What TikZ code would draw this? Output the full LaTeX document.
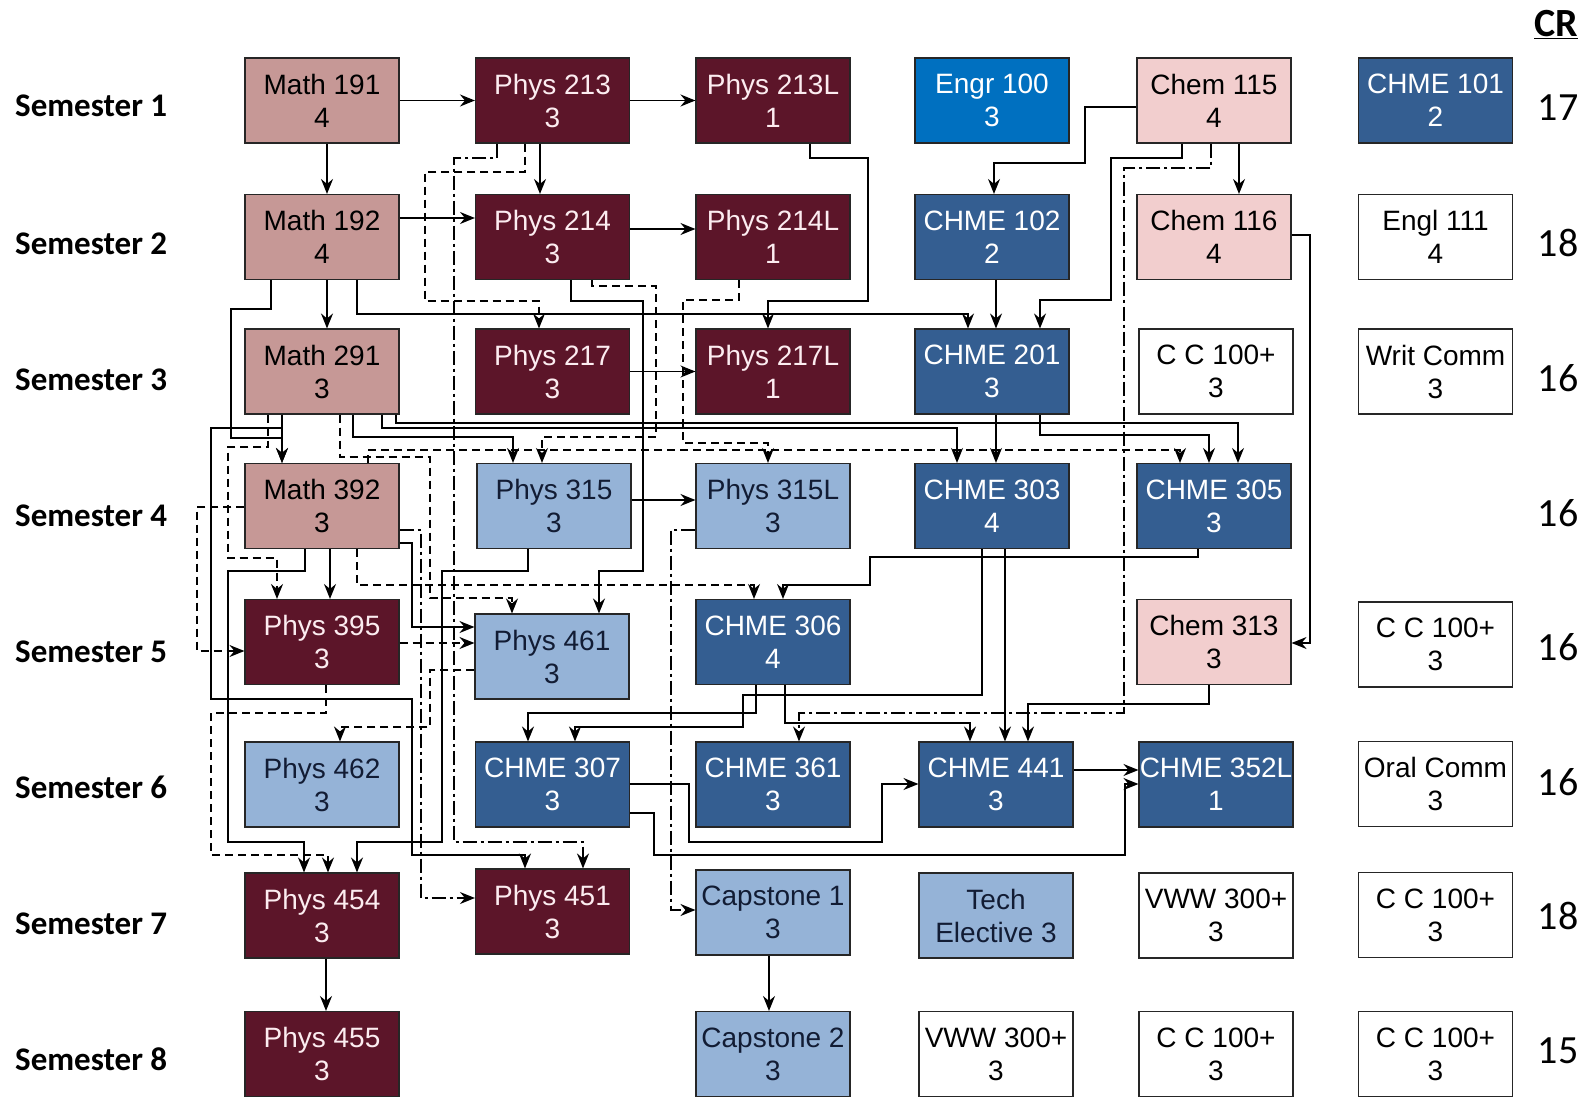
\documentclass[tikz,border=0pt]{standalone}
\usepackage{fontspec}
\setmainfont{Liberation Sans}
\newfontfamily\semfont{Carlito}
\usetikzlibrary{arrows.meta}
\definecolor{mathc}{RGB}{198,152,150}
\definecolor{physc}{RGB}{92,21,41}
\definecolor{physt}{RGB}{252,236,240}
\definecolor{chmec}{RGB}{52,94,145}
\definecolor{engrc}{RGB}{0,112,192}
\definecolor{chemc}{RGB}{242,206,206}
\definecolor{lbc}{RGB}{149,179,215}
\definecolor{lbt}{RGB}{18,28,52}
\tikzset{
 cbox/.style={draw=black!85, line width=1.1pt, minimum width=154pt, minimum height=85pt, inner sep=0pt, align=center, font=\fontsize{28}{33}\selectfont},
 mathb/.style={cbox, fill=mathc, text=black},
 physb/.style={cbox, fill=physc, text=physt},
 chmeb/.style={cbox, fill=chmec, text=white},
 engrb/.style={cbox, fill=engrc, text=white},
 chemb/.style={cbox, fill=chemc, text=black},
 lbb/.style={cbox, fill=lbc, text=lbt},
 whb/.style={cbox, fill=white, text=black},
 sem/.style={anchor=base west, inner sep=0pt, font=\semfont\bfseries\fontsize{33}{33}\selectfont},
 crn/.style={anchor=base, inner sep=0pt, font=\semfont\fontsize{40}{40}\selectfont},
 conn/.style={draw=black, line width=1.5pt, -{Stealth[length=15pt,width=12pt,inset=5pt]}},
 dsh/.style={conn, dash pattern=on 8pt off 5pt},
 ddot/.style={conn, dash pattern=on 14pt off 4pt on 3pt off 4pt},
}
\begin{document}
\begin{tikzpicture}[x=1pt,y=-1pt]
\useasboundingbox (0,0) rectangle (1592,1097);
\fill[white] (0,0) rectangle (1592,1097);

% semester labels
\node[sem] (s1) at (15,117) {Semester 1};
\node[sem] (s2) at (15,254) {Semester 2};
\node[sem] (s3) at (15,390) {Semester 3};
\node[sem] (s4) at (15,526) {Semester 4};
\node[sem] (s5) at (15,662) {Semester 5};
\node[sem] (s6) at (15,798) {Semester 6};
\node[sem] (s7) at (15,934) {Semester 7};
\node[sem] (s8) at (15,1070) {Semester 8};

% CR column
\node[crn, font=\semfont\bfseries\fontsize{40}{40}\selectfont] (cr) at (1556,37) {\underline{CR}};
\node[crn] (cr1) at (1558,121) {17};
\node[crn] (cr2) at (1558,256) {18};
\node[crn] (cr3) at (1558,391) {16};
\node[crn] (cr4) at (1558,526) {16};
\node[crn] (cr5) at (1558,660) {16};
\node[crn] (cr6) at (1558,795) {16};
\node[crn] (cr7) at (1558,929) {18};
\node[crn] (cr8) at (1558,1063) {15};

% Row 1
\node[mathb] (m191) at (322,100.5) {Math 191\\4};
\node[physb] (p213) at (552.5,100.5) {Phys 213\\3};
\node[physb] (p213L) at (773,100.5) {Phys 213L\\1};
\node[engrb] (e100) at (992,100.5) {Engr 100\\3};
\node[chemb] (c115) at (1214,100.5) {Chem 115\\4};
\node[chmeb] (h101) at (1435.5,100.5) {CHME 101\\2};
% Row 2
\node[mathb] (m192) at (322,237) {Math 192\\4};
\node[physb] (p214) at (552.5,237) {Phys 214\\3};
\node[physb] (p214L) at (773,237) {Phys 214L\\1};
\node[chmeb] (h102) at (992,237) {CHME 102\\2};
\node[chemb] (c116) at (1214,237) {Chem 116\\4};
\node[whb] (engl) at (1435.5,237) {Engl 111\\4};
% Row 3
\node[mathb] (m291) at (322,371.5) {Math 291\\3};
\node[physb] (p217) at (552.5,371.5) {Phys 217\\3};
\node[physb] (p217L) at (773,371.5) {Phys 217L\\1};
\node[chmeb] (h201) at (992,371.5) {CHME 201\\3};
\node[whb] (cc3) at (1216,371.5) {C C 100+\\3};
\node[whb] (writ) at (1435.5,371.5) {Writ Comm\\3};
% Row 4
\node[mathb] (m392) at (322,506) {Math 392\\3};
\node[lbb] (p315) at (554,506) {Phys 315\\3};
\node[lbb] (p315L) at (773,506) {Phys 315L\\3};
\node[chmeb] (h303) at (992,506) {CHME 303\\4};
\node[chmeb] (h305) at (1214,506) {CHME 305\\3};
% Row 5
\node[physb] (p395) at (322,642) {Phys 395\\3};
\node[lbb] (p461) at (552,656.5) {Phys 461\\3};
\node[chmeb] (h306) at (773,642) {CHME 306\\4};
\node[chemb] (c313) at (1214,642) {Chem 313\\3};
\node[whb] (cc5) at (1435.5,644.5) {C C 100+\\3};
% Row 6
\node[lbb] (p462) at (322,784.5) {Phys 462\\3};
\node[chmeb] (h307) at (552.5,784.5) {CHME 307\\3};
\node[chmeb] (h361) at (773,784.5) {CHME 361\\3};
\node[chmeb] (h441) at (996,784.5) {CHME 441\\3};
\node[chmeb] (h352) at (1216,784.5) {CHME 352L\\1};
\node[whb] (oral) at (1435.5,784) {Oral Comm\\3};
% Row 7
\node[physb] (p454) at (322,915.5) {Phys 454\\3};
\node[physb] (p451) at (552.5,911.5) {Phys 451\\3};
\node[lbb] (cap1) at (773,912.5) {Capstone 1\\3};
\node[lbb] (tech) at (996,915.5) {Tech\\Elective 3};
\node[whb] (vww7) at (1216,915.5) {VWW 300+\\3};
\node[whb] (cc7) at (1435.5,915) {C C 100+\\3};
% Row 8
\node[physb] (p455) at (322,1054) {Phys 455\\3};
\node[lbb] (cap2) at (773,1054) {Capstone 2\\3};
\node[whb] (vww8) at (996,1054) {VWW 300+\\3};
\node[whb] (cc8a) at (1216,1054) {C C 100+\\3};
\node[whb] (cc8b) at (1435.5,1054) {C C 100+\\3};

% ---- connectors ----
\draw[conn] (m191) -- (p213);
\draw[conn] (p213) -- (p213L);
\draw[conn] (m191.south -| 327,0) -- (m192.north -| 327,0);
\draw[conn] (p213.south -| 540,0) -- (p214.north -| 540,0);
\draw[ddot] (p213.south -| 497,0) |- (454,158) -- (454,842) -| (p451.north -| 583,0);
\draw[dsh] (p213.south -| 525,0) |- (425,172) |- (539,301) -- (p217.north -| 539,0);
\draw[conn] (m192.east |- 0,218) -- (p214.west |- 0,218);
\draw[conn] (p214.east |- 0,229) -- (p214L.west |- 0,229);
\draw[conn] (m192.south -| 327,0) -- (m291.north -| 327,0);
\draw[conn] (m192.south -| 271,0) |- (231,309) |- (282,438) -- (m392.north -| 282,0);
\draw[conn] (m291.south -| 282,0) -- (m392.north -| 282,0);
\draw[conn] (m291.south -| 282,0) |- (211,428) -- (211,699) -- (412,699) -- (412,855) -| (p451.north -| 525,0);
\draw[dsh] (m291.south -| 268,0) |- (228,447) |- (277,558) -- (p395.north -| 277,0);
\draw[dsh] (m291.south -| 340,0) |- (430,457) |- (512,598) -- (p461.north -| 512,0);
\draw[conn] (m291.south -| 353,0) |- (513,437) -- (p315.north -| 513,0);
\draw[conn] (m291.south -| 382,0) |- (957,428) -- (h303.north -| 957,0);
\draw[conn] (m291.south -| 396,0) |- (1238,423) -- (h305.north -| 1238,0);
\draw[conn] (m192.south -| 357,0) |- (968,314) -- (h201.north -| 968,0);
\draw[conn] (p214.south -| 571,0) |- (643,301) |- (599,571) -- (p461.north -| 599,0);
\draw[dsh] (p214.south -| 592,0) |- (656,286) |- (542,437) -- (p315.north -| 542,0);
\draw[conn] (p213L.south -| 810,0) |- (868,158) |- (768,301) -- (p217L.north -| 768,0);
\draw[dsh] (p214L.south -| 739,0) |- (683,300) |- (768,443) -- (p315L.north -| 768,0);
\draw[conn] (p217) -- (p217L);
\draw[conn] (c115.west |- 0,107) -| (1085,163) -| (h102.north -| 994,0);
\draw[conn] (c115.south -| 1182,0) |- (1111,158) |- (1040,300) -- (h201.north -| 1040,0);
\draw[ddot] (c115.south -| 1211,0) |- (1124,168) |- (799,713) -- (h361.north -| 799,0);
\draw[conn] (c115.south -| 1239,0) -- (c116.north -| 1239,0);
\draw[conn] (c116.east |- 0,235) -| (1310,643) -- (c313.east |- 0,643);
\draw[conn] (h102.south -| 996,0) -- (h201.north -| 996,0);
\draw[conn] (h201.south -| 996,0) -- (h303.north -| 996,0);
\draw[conn] (h201.south -| 1040,0) |- (1209,435) -- (h305.north -| 1209,0);
\draw[dsh] (m392.north -| 368,0) |- (1180,450) -- (h305.north -| 1180,0);
\draw[conn] (p315.east |- 0,500) -- (p315L.west |- 0,500);
\draw[ddot] (p315L.west |- 0,530) -| (671,910) -- (cap1.west |- 0,910);
\draw[conn] (m392.south -| 330,0) -- (p395.north -| 330,0);
\draw[dsh] (m392.west |- 0,507) -| (197,651) -- (p395.west |- 0,651);
\draw[dsh] (m392.south -| 357,0) |- (754,585) -- (h306.north -| 754,0);
\draw[conn] (m392.east |- 0,543) -| (412,627) -- (p461.west |- 0,627);
\draw[ddot] (m392.east |- 0,530) -| (421,898) -- (p451.west |- 0,898);
\draw[conn] (m392.south -| 305,0) |- (228,571) |- (304,842) -- (p454.north -| 304,0);
\draw[dsh] (p395.east |- 0,643) -- (p461.west |- 0,643);
\draw[dsh] (p395.south -| 326,0) |- (211,713) |- (328,855) -- (p454.north -| 328,0);
\draw[conn] (p315.south -| 528,0) |- (442,571) |- (357,842) -- (p454.north -| 357,0);
\draw[dsh] (p461.west |- 0,670) -| (430,727) -| (p462.north -| 340,0);
\draw[conn] (h305.south -| 1198,0) |- (870,557) |- (783,585) -- (h306.north -| 783,0);
\draw[conn] (h306.south -| 756,0) |- (528,713) -- (h307.north -| 528,0);
\draw[conn] (h303.south -| 982,0) |- (743,695) |- (575,727) -- (h307.north -| 575,0);
\draw[conn] (h306.south -| 785,0) |- (970,723) -- (h441.north -| 970,0);
\draw[conn] (h303.south -| 1005,0) -- (h441.north -| 1005,0);
\draw[conn] (c313.south -| 1209,0) |- (1028,704) -- (h441.north -| 1028,0);
\draw[conn] (h441.east |- 0,770) -- (h352.west |- 0,770);
\draw[conn] (h307.east |- 0,784) -| (689,842) -| (882,784) -- (h441.west |- 0,784);
\draw[conn] (h307.east |- 0,813) -| (654,855) -| (1125,784) -- (h352.west |- 0,784);
\draw[conn] (cap1.south -| 769,0) -- (cap2.north -| 769,0);
\draw[conn] (p454.south -| 326,0) -- (p455.north -| 326,0);
\end{tikzpicture}
\end{document}
